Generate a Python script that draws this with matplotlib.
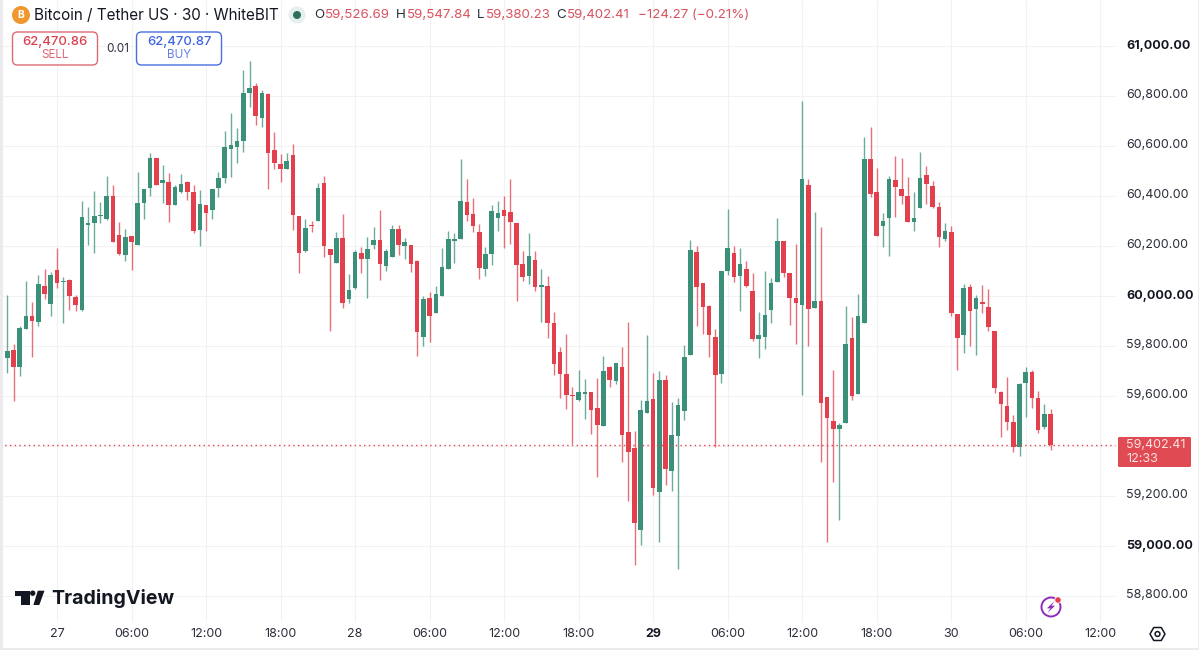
import numpy as np
import matplotlib
matplotlib.use('Agg')
import matplotlib.pyplot as plt
from matplotlib.patches import Circle, FancyBboxPatch, Polygon, Rectangle

plt.rcParams['font.family'] = ['Inter', 'DejaVu Sans']

# 30 minute bars, bar 0 opens at midnight on the 27th
FIRST_BAR = -9
opens = [59942, 59751, 59782, 59713, 59865, 59919, 59895, 60039, 59967, 60101, 60053, 60061, 59993, 59942, 60282, 60290, 60317, 60305, 60398, 60242, 60163, 60237, 60202, 60370, 60429, 60550, 60450, 60455, 60362, 60413, 60455, 60414, 60261, 60362, 60342, 60429, 60470, 60586, 60595, 60618, 60811, 60839, 60710, 60807, 60581,
         60525, 60506, 60561, 60318, 60177, 60281, 60299, 60450, 60185, 60131, 60230, 59985, 60029, 60171, 60147, 60202, 60222, 60118, 60154, 60265, 60199, 60202, 60137, 59835, 59989, 59930, 60000, 60106, 60219, 60226, 60373, 60325, 60254, 60107, 60167, 60310, 60341, 60333, 60291, 60126, 60079, 60143, 60033, 60039,
         59890, 59775, 59687, 59603, 59582, 59607, 59613, 59551, 59479, 59715, 59659, 59713, 59455, 59390, 59062, 59531, 59586, 59213, 59662, 59300, 59440, 59540, 59763, 60173, 60049, 59958, 59835, 59687, 60099, 60171, 60078, 60105, 60018, 59825, 59835, 59941, 60055, 60218, 60089, 59990,
         59962, 60441, 59951, 59977, 59593, 59499, 59466, 59489, 59831, 59606, 59891, 60545, 60414, 60278, 60311, 60462, 60427, 60399, 60294, 60351, 60481, 60438, 60353, 60227, 60255, 59926, 59841, 60035, 59946, 59974, 59953, 59857, 59614, 59558, 59493, 59393, 59651, 59693, 59589, 59473, 59526.69]
highs = [59942, 60002, 59805, 59879, 60057, 59974, 60082, 60106, 60095, 60189, 60073, 60065, 60002, 60378, 60355, 60418, 60373, 60478, 60443, 60293, 60267, 60238, 60495, 60425, 60569, 60550, 60521, 60491, 60441, 60485, 60457, 60442, 60422, 60362, 60427, 60495, 60658, 60729, 60669, 60902, 60938, 60849, 60822, 60809, 60653,
         60566, 60569, 60606, 60318, 60305, 60299, 60451, 60478, 60185, 60255, 60326, 60085, 60182, 60193, 60235, 60273, 60342, 60185, 60281, 60281, 60231, 60202, 60142, 60000, 60014, 60038, 60189, 60258, 60249, 60546, 60465, 60390, 60286, 60193, 60362, 60378, 60399, 60465, 60291, 60178, 60249, 60179, 60107, 60078,
         59935, 59793, 59845, 59633, 59701, 59666, 59613, 59671, 59758, 59718, 59731, 59793, 59894, 59460, 59582, 59843, 59689, 59697, 59682, 59573, 59591, 59801, 60222, 60198, 60049, 59961, 59865, 60097, 60345, 60198, 60190, 60139, 60091, 59935, 60099, 60071, 60311, 60218, 60091, 60206,
         60778, 60465, 60333, 60275, 59593, 59702, 59489, 59958, 59915, 60006, 60635, 60675, 60509, 60331, 60479, 60558, 60550, 60475, 60414, 60573, 60518, 60459, 60373, 60291, 60278, 59926, 60045, 60046, 60002, 60042, 60025, 59857, 59617, 59675, 59522, 59651, 59715, 59702, 59619, 59565, 59547.84]
lows = [59755, 59689, 59579, 59679, 59865, 59753, 59878, 59986, 59918, 60031, 59889, 59942, 59939, 59939, 60201, 60169, 60289, 60302, 60214, 60161, 60138, 60102, 60201, 60305, 60398, 60442, 60371, 60293, 60361, 60411, 60382, 60249, 60198, 60259, 60305, 60393, 60449, 60473, 60531, 60574, 60755, 60683, 60675, 60425, 60507,
        60453, 60506, 60262, 60089, 60175, 60255, 60299, 60153, 59857, 60129, 59951, 59971, 60027, 60089, 59989, 60185, 60062, 60099, 60153, 60163, 60146, 60095, 59759, 59799, 59814, 59929, 60000, 60106, 60131, 60225, 60299, 60254, 60067, 60078, 60122, 60259, 60191, 60205, 59979, 60058, 60045, 60017, 59893, 59829,
        59682, 59591, 59545, 59406, 59579, 59506, 59446, 59273, 59479, 59633, 59646, 59335, 59177, 58924, 59002, 59531, 59202, 59013, 59242, 59220, 58906, 59502, 59762, 59879, 59847, 59754, 59395, 59651, 60082, 60053, 59939, 60033, 59818, 59749, 59786, 59891, 60055, 60073, 59882, 59806,
        59602, 59798, 59951, 59333, 59014, 59256, 59102, 59489, 59582, 59606, 59891, 60395, 60238, 60193, 60158, 60315, 60365, 60293, 60259, 60350, 60365, 60351, 60193, 60219, 59920, 59702, 59772, 59798, 59761, 59931, 59857, 59611, 59436, 59462, 59374, 59360, 59516, 59549, 59449, 59468, 59380.23]
closes = [59755, 59779, 59715, 59869, 59919, 59898, 60046, 60006, 60081, 60051, 60058, 59999, 59963, 60313, 60290, 60318, 60322, 60399, 60215, 60167, 60235, 60215, 60370, 60425, 60550, 60443, 60462, 60362, 60434, 60445, 60413, 60258, 60365, 60330, 60427, 60469, 60593, 60603, 60618, 60809, 60831, 60719, 60809, 60570, 60531,
          60506, 60537, 60323, 60171, 60270, 60277, 60429, 60198, 60161, 60230, 59971, 60022, 60174, 60145, 60187, 60221, 60127, 60178, 60266, 60201, 60215, 60127, 59855, 59986, 59918, 60005, 60115, 60225, 60226, 60377, 60322, 60278, 60110, 60167, 60338, 60329, 60318, 60295, 60123, 60075, 60157, 60035, 60041, 59891,
          59725, 59687, 59602, 59598, 59613, 59613, 59543, 59483, 59697, 59662, 59730, 59443, 59373, 59092, 59543, 59579, 59232, 59663, 59306, 59441, 59563, 59753, 60182, 60035, 59955, 59843, 59683, 60097, 60190, 60075, 60127, 60037, 59826, 59843, 59923, 60049, 60218, 60091, 59989, 59969,
          60467, 59946, 59978, 59569, 59509, 59465, 59483, 59806, 59600, 59918, 60545, 60406, 60238, 60297, 60466, 60435, 60399, 60294, 60310, 60471, 60445, 60353, 60233, 60257, 59931, 59832, 60029, 59939, 59991, 59965, 59875, 59631, 59566, 59495, 59395, 59645, 59693, 59592, 59464, 59527, 59402.41]

last_price = 59402.41
price_ticks = [61000, 60800, 60600, 60400, 60200, 60000, 59800, 59600, 59200, 59000, 58800]
time_labels = ['27', '06:00', '12:00', '18:00', '28', '06:00', '12:00', '18:00', '29', '06:00', '12:00', '18:00', '30', '06:00', '12:00']
BARS_PER_LABEL = 12

GREEN = '#3b9079'
RED = '#e1404c'
GRID = '#f1f2f4'
DARK = '#2a2e39'
SOFT_RED = '#d9525f'

W, H = 1199, 650
BAR_PX = 6.21
X0_PX = 57.0
Y61000_PX = 45.5
PX_PER_USD = 0.25
AXIS_FONT = 9.0

fig = plt.figure(figsize=(W / 100, H / 100), dpi=100, facecolor='white')

# price pane, limits put one bar at 6.21 px and 200 USD at 50 px
ax = fig.add_axes([0, 0, 1, 1])
ax.set_xlim(-X0_PX / BAR_PX, (W - X0_PX) / BAR_PX)
ax.set_ylim(61000 - (H - Y61000_PX) / PX_PER_USD, 61000 + Y61000_PX / PX_PER_USD)
ax.axis('off')

pane_right = (1115 - X0_PX) / BAR_PX
pane_bottom = 61000 - (622 - Y61000_PX) / PX_PER_USD
pane_top = ax.get_ylim()[1]

all_prices = [61000, 60800, 60600, 60400, 60200, 60000, 59800, 59600, 59400, 59200, 59000, 58800]
ax.hlines(all_prices, ax.get_xlim()[0], pane_right, color=GRID, lw=0.75, zorder=1)
label_bars = np.arange(len(time_labels)) * BARS_PER_LABEL
ax.vlines(label_bars, pane_bottom, pane_top, color=GRID, lw=0.75, zorder=1)

bars = np.arange(len(opens)) + FIRST_BAR
o = np.array(opens)
h = np.array(highs)
l = np.array(lows)
c = np.array(closes)
colors = [GREEN if cl >= op else RED for op, cl in zip(o, c)]

ax.vlines(bars, l, h, colors=colors, lw=1.0, alpha=0.75, zorder=2)
ax.bar(bars, np.maximum(np.abs(c - o), 6), bottom=np.minimum(o, c), width=0.74, color=colors, zorder=3)
ax.hlines(last_price, ax.get_xlim()[0], pane_right, color=RED, lw=1.0, linestyles=(0, (1, 2.4)), zorder=4)

# everything else is laid out in pixels on top of the pane
ui = fig.add_axes([0, 0, 1, 1])
ui.set_xlim(0, W)
ui.set_ylim(H, 0)
ui.axis('off')
ui.patch.set_alpha(0)

ui.add_patch(Rectangle((0, 0), 3, H, color='#ebebed', lw=0))
ui.add_patch(Rectangle((0, 648), W, 2, color='#ebebed', lw=0))
ui.add_patch(Rectangle((1198, 0), 1, H, color='#ebebed', lw=0))

for price in price_ticks:
    y = Y61000_PX + (61000 - price) * PX_PER_USD
    bold = price % 1000 == 0
    ui.text(1126, y, f'{price:,.2f}', fontsize=AXIS_FONT, color='#131722' if bold else DARK,
            fontweight='bold' if bold else 'normal', va='center', ha='left')

for i, label in enumerate(time_labels):
    x = X0_PX + label_bars[i] * BAR_PX
    bold = label == '29'
    ui.text(x, 634, label, fontsize=AXIS_FONT, color='#131722' if bold else DARK,
            fontweight='bold' if bold else 'normal', va='center', ha='center')

# last price tag
ui.add_patch(FancyBboxPatch((1118, 437), 73, 30, boxstyle='round,pad=0,rounding_size=1.5', fc='#e04a52', ec='none'))
ui.text(1126, 444.5, '59,402.41', fontsize=AXIS_FONT, color='#fbe3e4', va='center', ha='left')
ui.text(1126, 458.5, '12:33', fontsize=AXIS_FONT, color='#fbe3e4', va='center', ha='left')

# header line
ui.add_patch(Circle((21, 15), 9, fc='#f0982f', ec='none'))
ui.text(21, 15.3, 'B', fontsize=7.5, fontweight='bold', color='white', va='center', ha='center')
ui.text(34, 15.5, 'Bitcoin / Tether US · 30 · WhiteBIT', fontsize=10.95, color='#131722', va='center', ha='left')
ui.add_patch(Circle((297, 15), 8.5, fc='#e4f0ed', ec='none'))
ui.add_patch(Circle((297, 15), 4, fc='#2f6f5e', ec='none'))

header_items = [(314, 'O', DARK), (325, '59,526.69', SOFT_RED), (396, 'H', DARK), (407, '59,547.84', SOFT_RED),
                (477, 'L', DARK), (486, '59,380.23', SOFT_RED), (556, 'C', DARK), (567, '59,402.41', SOFT_RED),
                (638, '−124.27 (−0.21%)', SOFT_RED)]
for x, text, color in header_items:
    ui.text(x, 15.5, text, fontsize=9.6, color=color, va='center', ha='left')

# sell / buy buttons
for x, price, side, color, text_color in [(12.5, '62,470.86', 'SELL', '#dc6a74', '#d9404d'), (136.5, '62,470.87', 'BUY', '#4a6ee0', '#3f62e0')]:
    ui.add_patch(FancyBboxPatch((x, 32), 85, 33, boxstyle='round,pad=0,rounding_size=5', fc='white', ec=color, lw=1))
    ui.text(x + 42.5, 41.5, price, fontsize=9.4, fontweight='medium', color=text_color, va='center', ha='center')
    ui.text(x + 42.5, 55.5, side, fontsize=8.4, color=text_color, alpha=0.8, va='center', ha='center')
ui.text(117.5, 48.5, '0.01', fontsize=8.4, color=DARK, va='center', ha='center')

# TradingView mark
ui.add_patch(Polygon([(15, 590.7), (29.5, 590.7), (29.5, 605), (21, 605), (21, 596), (15, 596)], fc='#131722', ec='none'))
ui.add_patch(Circle((32.7, 593.2), 2.7, fc='#131722', ec='none'))
ui.add_patch(Polygon([(37.8, 590.7), (44.5, 590.7), (39.3, 605), (33.4, 605)], fc='#131722', ec='none'))
ui.text(51.5, 598.5, 'TradingView', fontsize=14.1, fontweight='bold', color='#131722', va='center', ha='left')

# lightning badge
ui.add_patch(Circle((1051, 607), 9.5, fc='white', ec='#8e2cb8', lw=1.4))
ui.add_patch(Polygon([(1054.5, 601), (1047, 608.3), (1050.5, 608.3), (1047.5, 613), (1055, 605.7), (1051.5, 605.7)], fc='#8e2cb8', ec='none'))
ui.add_patch(Circle((1058, 600), 3.2, fc='#e2404c', ec='white', lw=0.6))

# settings hexagon
angles = np.deg2rad(np.arange(0, 360, 60))
ui.add_patch(Polygon(np.c_[1157.5 + 7.5 * np.cos(angles), 634 + 7.5 * np.sin(angles)], fc='none', ec='#131722', lw=1.1, joinstyle='round'))
ui.add_patch(Circle((1157.5, 634), 2.4, fc='none', ec='#131722', lw=1.1))

fig.savefig('out.png', dpi=100, facecolor='white')
